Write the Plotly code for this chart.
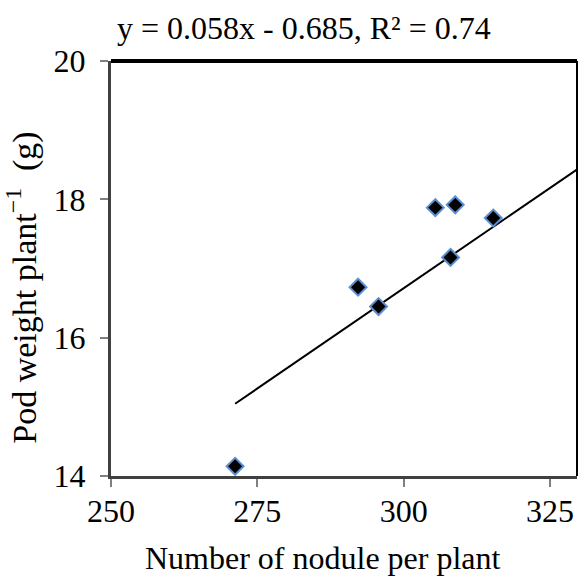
import plotly.graph_objects as go

# Data
nodules = [271.2, 292.2, 295.7, 305.4, 308.8, 308.0, 315.3]
pod_weight = [14.14, 16.73, 16.45, 17.88, 17.92, 17.16, 17.73]
slope = 0.058
intercept = -0.685
r2 = 0.74
x_ticks = [250, 275, 300, 325]
y_ticks = [14, 16, 18, 20]

FONT = "Liberation Serif"
FS = 32

line_x = [min(nodules), 330]
line_y = [slope * v + intercept for v in line_x]

fig = go.Figure()
fig.add_trace(go.Scatter(x=line_x, y=line_y, mode="lines",
                         line=dict(color="black", width=2), showlegend=False,
                         hoverinfo="skip"))
fig.add_trace(go.Scatter(x=nodules, y=pod_weight, mode="markers",
                         marker=dict(symbol="diamond", size=13, color="black",
                                     line=dict(color="#5B8FD0", width=2)),
                         showlegend=False))

fig.update_layout(
    width=579, height=584,
    margin=dict(l=111, r=2, t=61, b=108),
    plot_bgcolor="white", paper_bgcolor="white",
    font=dict(family=FONT, size=FS, color="black"),
    xaxis=dict(range=[250, 329.6], tickvals=x_ticks, ticks="outside", ticklen=8,
               tickcolor="#808080", tickwidth=2, showgrid=False, zeroline=False,
               showline=True, linecolor="#404040", linewidth=3,
               tickfont=dict(family=FONT, size=FS), ticklabelstandoff=-3),
    yaxis=dict(range=[14, 20], tickvals=y_ticks, ticks="outside", ticklen=8,
               tickcolor="#808080", tickwidth=2, showgrid=False, zeroline=False,
               showline=True, linecolor="#404040", linewidth=3,
               tickfont=dict(family=FONT, size=FS), ticklabelstandoff=8),
    showlegend=False,
)

# top and right frame
fig.add_shape(type="line", xref="paper", yref="paper", x0=0, x1=1, y0=1, y1=1,
              line=dict(color="black", width=4))
fig.add_shape(type="line", xref="paper", yref="paper", x0=1, x1=1, y0=0, y1=1,
              line=dict(color="black", width=2))

fig.add_annotation(text=f"y = {slope}x - {abs(intercept)}, R² = {r2}",
                   xref="paper", yref="paper", x=(304 - 111) / 466, y=1,
                   yshift=33, showarrow=False, xanchor="center", yanchor="middle",
                   font=dict(family=FONT, size=FS))
fig.add_annotation(text="Number of nodule per plant", xref="paper", yref="paper",
                   x=(323 - 111) / 466, y=0, yshift=-82, showarrow=False,
                   xanchor="center", yanchor="middle", font=dict(family=FONT, size=FS))
fig.add_annotation(text="Pod weight plant<sup>−1</sup>\u00a0 (g)", xref="paper", yref="paper",
                   x=0, xshift=-89, y=(476.5 - 288) / 415.5, showarrow=False,
                   textangle=-90, xanchor="center", yanchor="middle",
                   font=dict(family=FONT, size=34))

fig.write_html("out.html")
